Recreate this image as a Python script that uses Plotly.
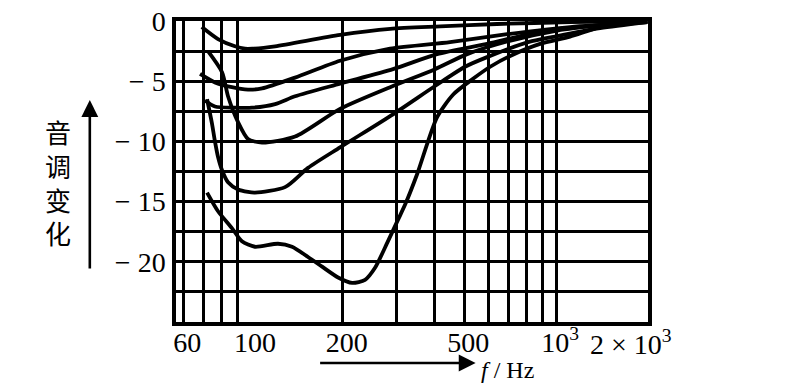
import plotly.graph_objects as go
import math

# ---- data ----
freq_a = [69, 78, 88.6, 95.6, 101, 120, 196, 286, 417, 640, 1111, 1990]
val_a = [-0.5, -1.5, -2.1, -2.3, -2.3, -2.1, -1.15, -0.65, -0.45, -0.25, -0.1, 0]

freq_b = [68.1, 76.2, 86.6, 97.8, 108.7, 139.5, 195.8, 285.6, 449, 691, 1111, 1990]
val_b = [-4.4, -5.1, -5.5, -5.7, -5.6, -4.7, -3.3, -2.3, -1.75, -1.1, -0.5, -0.1]

freq_c = [70.7, 76.2, 88.6, 100.8, 120, 139.5, 195.8, 292, 407, 594, 886, 1394, 1990]
val_c = [-6.6, -7.1, -7.2, -7.2, -6.9, -6.25, -5.2, -4.0, -2.75, -1.9, -0.9, -0.35, 0]

freq_d = [72.3, 80.4, 84.1, 90.7, 97.8, 108.7, 139.5, 195.8, 292, 401, 511, 691, 1008, 1394, 1990]
val_d = [-2.5, -4.25, -6.25, -8.4, -9.8, -10.1, -9.6, -7.3, -5.4, -4.0, -2.75, -1.7, -0.8, -0.35, 0]

freq_f = [71.8, 74.5, 76.2, 78, 80.4, 84.1, 90.7, 97.8, 103.1, 129.3, 153.8, 195.8, 292, 401, 503, 594, 810, 1008, 1394, 1990]
val_f = [-6.5, -8.5, -10.0, -11.3, -12.4, -13.4, -14.0, -14.2, -14.25, -13.8, -12.2, -10.5, -7.75, -5.4, -3.8, -3.0, -1.75, -1.25, -0.6, -0.1]

freq_e = [71.8, 78, 86.6, 93.4, 103, 122.6, 136.3, 153.8, 171, 193, 214.5, 236.5, 255, 281, 303.4, 320, 350, 407, 460, 534, 608, 707, 886, 1111, 1426, 1990]
val_e = [-14.25, -15.8, -17.2, -18.3, -18.75, -18.5, -18.75, -19.6, -20.4, -21.3, -21.75, -21.5, -20.5, -18.3, -16.5, -15.25, -12.75, -8.0, -6.1, -4.8, -3.8, -2.9, -1.9, -1.3, -0.45, -0.1]

x_grid = [60, 70, 80, 90, 200, 300, 400, 500, 600, 700, 800, 900, 1000]
x_tick_vals = [60, 100, 200, 500, 1000]
x_tick_text = ["60", "100", "200", "500", "10<sup>3</sup>"]
x_last_val = 2000
x_last_text = "2 × 10<sup>3</sup>"

y_tick_vals = [0, -5, -10, -15, -20]
y_tick_text = ["0", "− 5", "− 10", "− 15", "− 20"]
y_grid_step = 2.5

x_min, x_max = 56.8, 2000
y_min, y_max = -25, 0

SERIF = "Liberation Serif"
TICK_SIZE = 28

fig = go.Figure()
series = [(freq_a, val_a), (freq_b, val_b), (freq_c, val_c), (freq_d, val_d), (freq_f, val_f)]
for fx, vy in series:
    fig.add_trace(go.Scatter(x=fx, y=vy, mode="lines", xaxis="x", yaxis="y",
                             line=dict(color="black", width=3.8, shape="spline", smoothing=0.7),
                             showlegend=False, hoverinfo="skip"))
# deepest curve on the labelled overlay axis (identical scale)
fig.add_trace(go.Scatter(x=freq_e, y=val_e, mode="lines", xaxis="x2", yaxis="y",
                         line=dict(color="black", width=3.8, shape="spline", smoothing=0.7),
                         showlegend=False, hoverinfo="skip"))

xr = [math.log10(x_min), math.log10(x_max)]
fig.update_layout(
    width=808, height=391,
    margin=dict(l=176, r=160, t=21, b=69, autoexpand=False),
    paper_bgcolor="white", plot_bgcolor="white",
    xaxis=dict(type="log", range=xr, tickmode="array", tickvals=x_grid,
               showticklabels=False, ticks="", showgrid=True, gridcolor="black", gridwidth=3,
               showline=True, linecolor="black", linewidth=3.5, mirror=True, zeroline=False,
               automargin=False),
    xaxis2=dict(type="log", range=xr, overlaying="x", side="bottom", anchor="y",
                tickmode="array", tickvals=x_tick_vals, ticktext=x_tick_text,
                showgrid=False, ticks="", showline=False, zeroline=False, automargin=False,
                tickfont=dict(family=SERIF, size=TICK_SIZE, color="black"),
                ticklabelstandoff=1, ticklabelshift=4),
    yaxis=dict(range=[y_min, y_max], tickmode="array", tickvals=y_tick_vals, ticktext=y_tick_text,
               showgrid=True, gridcolor="black", gridwidth=3, ticks="",
               minor=dict(tickmode="linear", tick0=0, dtick=y_grid_step, showgrid=True,
                          gridcolor="black", gridwidth=3, ticks=""),
               showline=True, linecolor="black", linewidth=3.5, mirror=True, zeroline=False,
               automargin=False,
               tickfont=dict(family=SERIF, size=TICK_SIZE, color="black"), ticklabelstandoff=1),
)

# last x label, right-aligned near the right frame as in the reference
fig.add_annotation(xref="x2", yref="paper", x=math.log10(x_last_val), y=0, yshift=-1,
                   text=x_last_text, showarrow=False, xanchor="right", yanchor="top", xshift=26,
                   font=dict(family=SERIF, size=TICK_SIZE, color="black"))

# vertical axis caption and arrow
fig.add_annotation(xref="paper", yref="paper", x=-0.2505, y=0.465,
                   text="音<br>调<br>变<br>化", showarrow=False,
                   font=dict(family="Noto Sans CJK SC", size=26, color="black"),
                   xanchor="center", yanchor="middle")
fig.add_annotation(xref="paper", yref="paper", x=-0.1826, y=0.7375,
                   ax=0, ay=170, axref="pixel", ayref="pixel", text="",
                   showarrow=True, arrowhead=2, arrowsize=1.3, arrowwidth=2.6, arrowcolor="black")
# horizontal axis caption and arrow
fig.add_annotation(xref="paper", yref="paper", x=0.6348, y=-0.136,
                   ax=-157, ay=0, axref="pixel", ayref="pixel", text="",
                   showarrow=True, arrowhead=2, arrowsize=1.3, arrowwidth=2.6, arrowcolor="black")
fig.add_annotation(xref="paper", yref="paper", x=0.642, y=-0.158,
                   text="<i>f</i> / Hz", showarrow=False, xanchor="left", yanchor="middle",
                   font=dict(family=SERIF, size=24, color="black"))

fig.write_html("out.html", config={"displayModeBar": False},
               post_script="document.body.style.margin='0';document.body.style.overflow='hidden';")
